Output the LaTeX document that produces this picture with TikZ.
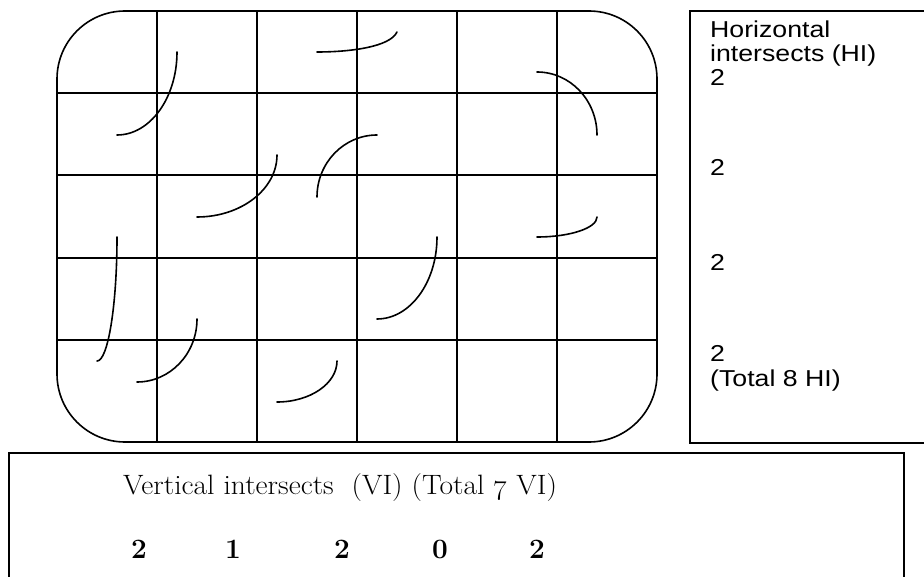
\documentclass[tikz,border=0pt]{standalone}
\usepackage{fontspec}
\usepackage{tikz}
\usetikzlibrary{positioning}
\newfontfamily\hifont[FakeStretch=1.16]{Liberation Sans}
\newfontfamily\vifont[FakeStretch=1.055]{Latin Modern Roman}

\begin{document}
\begin{tikzpicture}[x=1pt, y=-1pt,
    gridline/.style={line width=1.6pt},
    boxline/.style={line width=1.8pt},
    trace/.style={line width=1.6pt, line cap=round},
    hitext/.style={anchor=base west, inner sep=0pt, font=\hifont\fontsize{23}{25}\selectfont},
    vitext/.style={anchor=base west, inner sep=0pt, font=\vifont\fontsize{28}{32}\selectfont},
    vinum/.style={anchor=base, inner sep=0pt, font=\fontsize{28}{32}\selectfont\bfseries}]
    \useasboundingbox (0,0) rectangle (924,577);

    % Grid
    \draw[gridline, rounded corners=68pt] (57,11) rectangle (657,442);
    \foreach \xx in {157,257,...,557}
        \draw[gridline] (\xx,11) -- (\xx,442);
    \foreach \yy in {93,175,258,340}
        \draw[gridline] (57,\yy) -- (657,\yy);

    % Traces
    \draw[trace] (177,52) .. controls (177,97.8) and (150.1,135) .. (117,135);
    \draw[trace] (317,52) .. controls (350,52) and (390,47) .. (397,32);
    \draw[trace] (277,155) .. controls (277,189.2) and (241.2,217) .. (197,217);
    \draw[trace] (317,197) .. controls (317,162.8) and (343.9,135) .. (377,135);
    \draw[trace] (537,72) .. controls (570.1,72) and (597,100.2) .. (597,135);
    \draw[trace] (537,237) .. controls (570.1,237) and (597,228) .. (597,217);
    \draw[trace] (437,237) .. controls (437,282.3) and (410.1,319) .. (377,319);
    \draw[trace] (117,237) .. controls (117,305.4) and (108,361) .. (97,361);
    \draw[trace] (197,319) .. controls (197,353.8) and (170.1,382) .. (137,382);
    \draw[trace] (337,361) .. controls (337,383.6) and (310.1,402) .. (277,402);

    % Horizontal intersects
    \draw[boxline] (926,11) -- (690,11) -- (690,443) -- (926,443);
    \node[hitext] (hiHead) at (710,38) {Horizontal};
    \node[hitext] (hiSub) at (710,62) {intersects (HI)};
    \node[hitext] (hiA) at (710,86) {2};
    \node[hitext] (hiB) at (710,176) {2};
    \node[hitext] (hiC) at (710,271) {2};
    \node[hitext] (hiD) at (710,362) {2};
    \node[hitext] (hiTotal) at (710,386) {(Total 8 HI)};

    % Vertical intersects
    \draw[boxline] (9,579) -- (9,453) -- (904,453) -- (904,579);
    \node[vitext] (viHead) at (123,494) {Vertical intersects\ \ (VI) (Total \oldstylenums{7} VI)};
    \node[vinum] (viA) at (139,558) {\oldstylenums{2}};
    \node[vinum] (viB) at (233,558) {\oldstylenums{1}};
    \node[vinum] (viC) at (342,558) {\oldstylenums{2}};
    \node[vinum] (viD) at (440,558) {\oldstylenums{0}};
    \node[vinum] (viE) at (537,558) {\oldstylenums{2}};
\end{tikzpicture}
\end{document}
